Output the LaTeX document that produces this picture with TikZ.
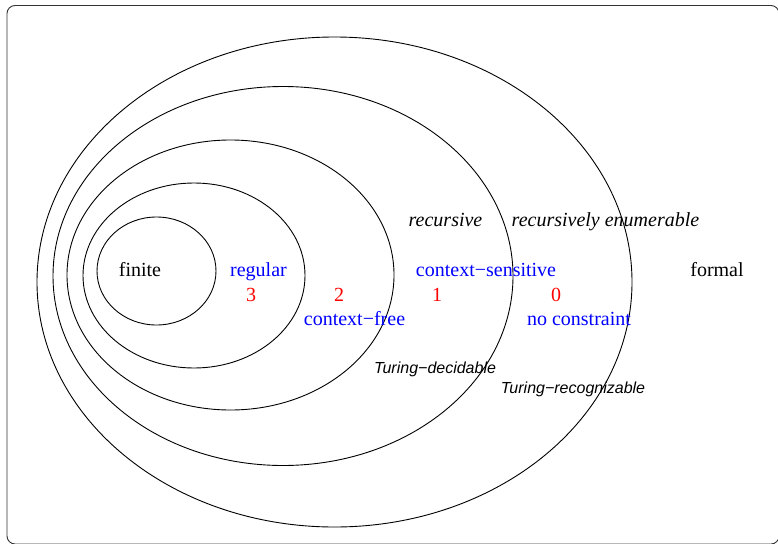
\documentclass[tikz,border=0pt]{standalone}
\usepackage{fontspec}
\setmainfont{Liberation Serif}
\newfontfamily\helv{Liberation Sans}
\definecolor{rblue}{RGB}{0,0,255}
\definecolor{rred}{RGB}{255,0,0}
\begin{document}
\begin{tikzpicture}[x=1pt,y=-1pt,
  setline/.style={draw=black,line width=0.9pt},
  lbl/.style={anchor=base,inner sep=0pt,font=\fontsize{20}{24}\selectfont},
  blbl/.style={lbl,text=rblue},
  num/.style={lbl,text=rred},
  ilbl/.style={lbl,font=\fontsize{20}{24}\selectfont\itshape},
  slbl/.style={anchor=base,inner sep=0pt,font=\fontsize{16}{19}\helv\itshape}]
\useasboundingbox (0,0) rectangle (778,543);
\begin{scope}
\clip (0,0) rectangle (778,543);
\draw[draw=black!80,line width=0.9pt,rounded corners=8pt] (7,5.5) rectangle (779,544);
\end{scope}
% nested sets
\draw[setline] (334.5,282) ellipse [x radius=297.5, y radius=245];
\draw[setline] (283,276) ellipse [x radius=230, y radius=189.5];
\draw[setline] (230.5,275) ellipse [x radius=163.5, y radius=135];
\draw[setline] (194,275.5) ellipse [x radius=111, y radius=92.5];
\draw[setline] (156.5,271) ellipse [x radius=59.5, y radius=54];
% labels
\node[lbl] (finite) at (140,276.5) {finite};
\node[blbl] (regular) at (258.5,276.5) {regular};
\node[num] (n3) at (251,301.5) {3};
\node[num] (n2) at (339,301.5) {2};
\node[blbl] (cf) at (354.5,325) {context−free};
\node[ilbl] (rec) at (445.5,226.5) {recursive};
\node[ilbl] (re) at (605.5,226.5) {recursively enumerable};
\node[blbl] (cs) at (486,276.5) {context−sensitive};
\node[num] (n1) at (437,301.5) {1};
\node[num] (n0) at (556,301.5) {0};
\node[blbl] (nc) at (579,325) {no constraint};
\node[lbl] (formal) at (717,276.5) {formal};
\node[slbl] (td) at (435,373.3) {Turing−decidable};
\node[slbl] (tr) at (573,393.3) {Turing−recognizable};
\end{tikzpicture}
\end{document}
